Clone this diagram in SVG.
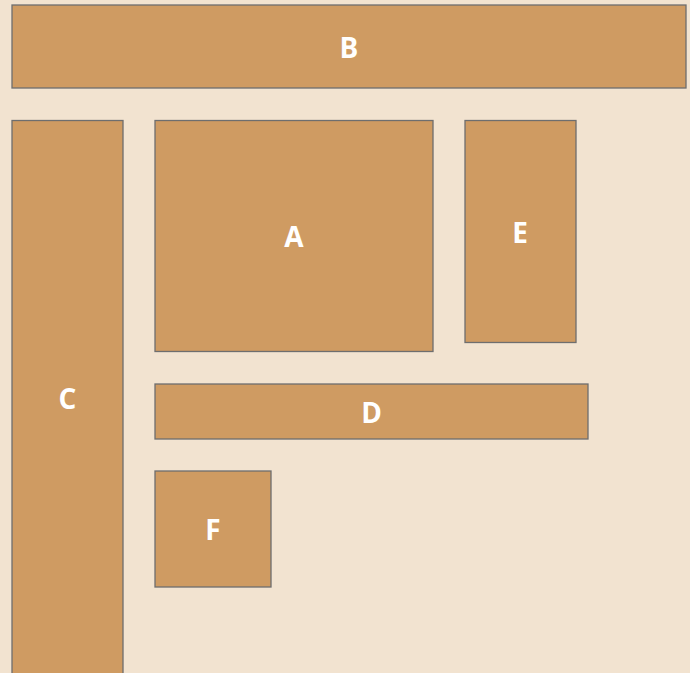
<svg xmlns="http://www.w3.org/2000/svg" width="690" height="673" viewBox="0 0 690 673">
<style>
.box{fill:#CF9B62;stroke:#6E6E6E;stroke-width:1.3}
.lbl{font-family:"Open Sans","Liberation Sans",sans-serif;font-weight:bold;font-size:28px;fill:#FFFFFF;text-anchor:middle;dominant-baseline:central}
</style>
<rect width="690" height="673" fill="#F2E3D0"/>
<g id="connectors"/>
<g id="B"><rect class="box" x="12" y="5" width="674" height="83"/><text class="lbl" x="349" y="47">B</text></g>
<g id="C"><rect class="box" x="12" y="120.5" width="111" height="560"/><text class="lbl" x="67.5" y="398">C</text></g>
<g id="A"><rect class="box" x="155" y="120.5" width="278" height="231"/><text class="lbl" x="294" y="236">A</text></g>
<g id="E"><rect class="box" x="465" y="120.5" width="111" height="222"/><text class="lbl" x="520" y="232">E</text></g>
<g id="D"><rect class="box" x="155" y="384" width="433" height="55"/><text class="lbl" x="371.5" y="412">D</text></g>
<g id="F"><rect class="box" x="155" y="471" width="116" height="116"/><text class="lbl" x="213" y="529">F</text></g>
</svg>
